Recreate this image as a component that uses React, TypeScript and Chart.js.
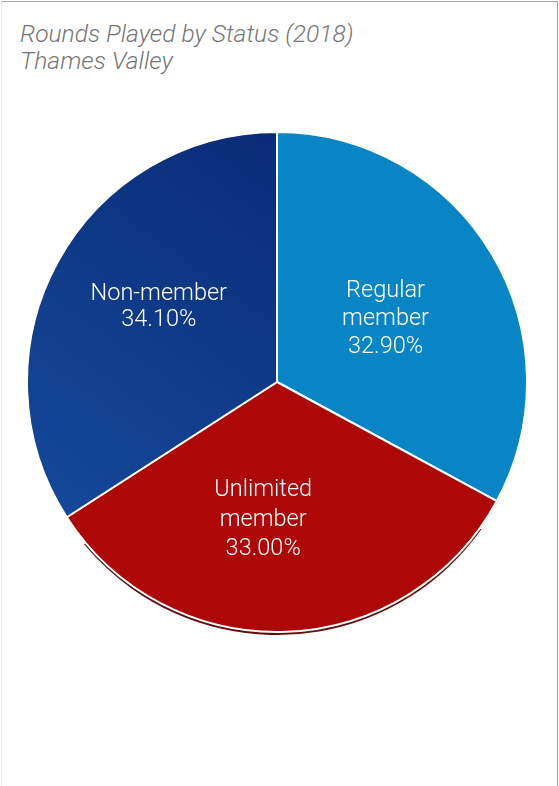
import React, { useEffect, useRef } from "react";
import { Chart, registerables } from "chart.js";

Chart.register(...registerables);

const titleLines = ["Rounds Played by Status (2018)", "Thames Valley"];
const categories = ["Regular member", "Unlimited member", "Non-member"];
const labelLines = [["Regular", "member"], ["Unlimited", "member"], ["Non-member"]];
const shares = [32.9, 33.0, 34.1];
const sliceColors = ["#0785c5", "#ad0707", "#0c3482"];

const LABEL_SIZE = 23.5;
const LABEL_FONT = `300 ${LABEL_SIZE}px Roboto, 'Liberation Sans', sans-serif`;

const shadowPlugin = {
  id: "pieShadow",
  beforeDatasetsDraw(chart: any) {
    const meta = chart.getDatasetMeta(0);
    const arc = meta.data[1];
    if (!arc) return;
    const { x, y, startAngle, endAngle, outerRadius } = arc.getProps(
      ["x", "y", "startAngle", "endAngle", "outerRadius"],
      true
    );
    const ctx = chart.ctx;
    ctx.save();
    ctx.beginPath();
    ctx.moveTo(x, y + 2.5);
    ctx.arc(x, y + 2.5, outerRadius + 0.5, startAngle + 0.12, endAngle - 0.12);
    ctx.closePath();
    ctx.fillStyle = "#5e0d0d";
    ctx.fill();
    ctx.restore();
  },
};

const labelPlugin = {
  id: "sliceLabels",
  afterDatasetsDraw(chart: any, _args: any, opts: any) {
    const meta = chart.getDatasetMeta(0);
    const ctx = chart.ctx;
    const nudges = opts.nudges || [];
    const factors = opts.factors || [];
    const spacing = opts.lineHeights || [];
    ctx.save();
    ctx.fillStyle = "#ffffff";
    ctx.font = LABEL_FONT;
    ctx.textAlign = "center";
    ctx.textBaseline = "alphabetic";
    meta.data.forEach((arc: any, i: number) => {
      const { x, y, startAngle, endAngle, outerRadius } = arc.getProps(
        ["x", "y", "startAngle", "endAngle", "outerRadius"],
        true
      );
      const mid = (startAngle + endAngle) / 2;
      const r = outerRadius * (factors[i] ?? 0.52);
      const n = nudges[i] || { dx: 0, dy: 0 };
      const cx = x + Math.cos(mid) * r + n.dx;
      const cy = y + Math.sin(mid) * r + n.dy;
      const lines = [...labelLines[i], shares[i].toFixed(2) + "%"];
      const lh = spacing[i] ?? 28.5;
      lines.forEach((t, k) => {
        const base = cy + (k - (lines.length - 1) / 2) * lh + 0.355 * LABEL_SIZE;
        ctx.fillText(t, cx, base);
      });
    });
    ctx.restore();
  },
};

export default function App() {
  const ref = useRef<HTMLCanvasElement | null>(null);

  useEffect(() => {
    if (!ref.current) return;
    document.body.style.margin = "0";
    const chart = new Chart(ref.current, {
      type: "pie",
      data: {
        labels: categories,
        datasets: [
          {
            data: shares,
            backgroundColor: (c: any) => {
              const i = c.dataIndex;
              if (i === 2 && c.chart.chartArea) {
                const a = c.chart.chartArea;
                const g = c.chart.ctx.createLinearGradient(
                  a.left + a.width * 0.5,
                  a.top,
                  a.left,
                  a.top + a.height * 0.7
                );
                g.addColorStop(0, "#0a2b78");
                g.addColorStop(1, "#144898");
                return g;
              }
              return sliceColors[i];
            },
            borderColor: "#ffffff",
            borderWidth: 2,
            hoverOffset: 0,
          },
        ],
      },
      options: {
        responsive: false,
        animation: false,
        layout: { padding: { bottom: 10 } },
        plugins: {
          legend: { display: false },
          tooltip: { enabled: false },
          title: { display: false },
          sliceLabels: {
            factors: [0.51, 0.55, 0.55],
            lineHeights: [28.3, 29.3, 26.5],
            nudges: [
              { dx: -1, dy: 0 },
              { dx: -19, dy: -2 },
              { dx: 2.5, dy: -11.5 },
            ],
          },
        } as any,
      },
      plugins: [shadowPlugin, labelPlugin],
    });
    return () => chart.destroy();
  }, []);

  return (
    <div style={{ position: "relative", width: 559, height: 786, background: "#ffffff", overflow: "hidden" }}>
      <div
        style={{
          position: "absolute",
          left: 1,
          top: 1,
          width: 557,
          height: 786,
          boxSizing: "border-box",
          borderTop: "1px solid #a8a8a8",
          borderRight: "1px solid #a0a0a0",
          borderLeft: "1px solid #ececec",
        }}
      />
      <div
        style={{
          position: "absolute",
          left: 20,
          top: 20,
          fontFamily: "Roboto, 'Liberation Sans', sans-serif",
          fontWeight: 300,
          fontStyle: "italic",
          fontSize: 24.6,
          lineHeight: "27px",
          color: "#767676",
          whiteSpace: "nowrap",
        }}
      >
        {titleLines.map((t) => (
          <div key={t}>{t}</div>
        ))}
      </div>
      <canvas
        ref={ref}
        width={502}
        height={512}
        style={{ position: "absolute", left: 26, top: 131, width: 502, height: 512 }}
      />
    </div>
  );
}
